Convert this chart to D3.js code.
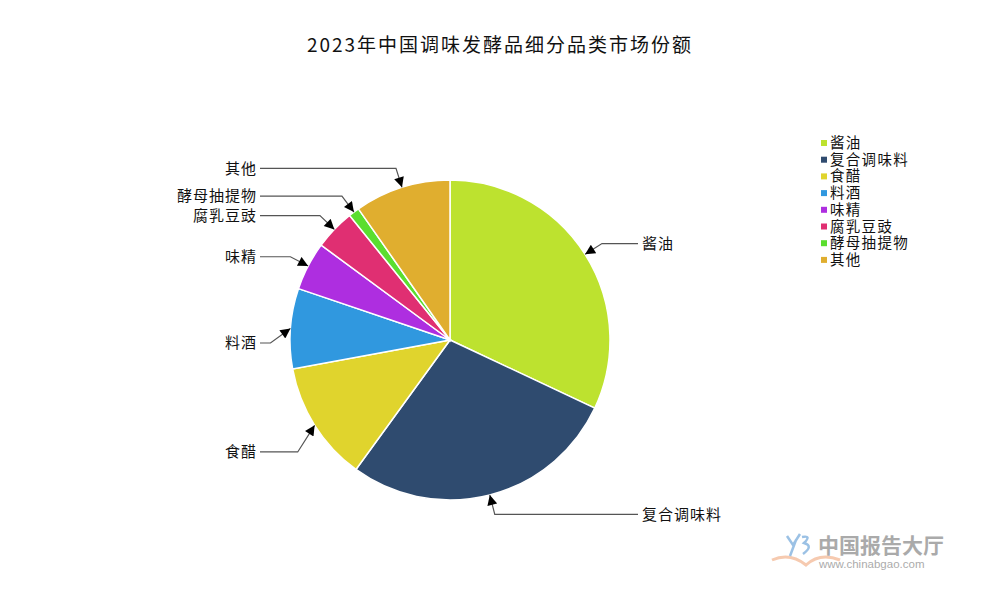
<!DOCTYPE html>
<html>
<head>
    <meta http-equiv="content-type" content="text/html; charset=utf-8" />
    <style>
        html, body { margin: 0; padding: 0; background: #fff; }
        svg text { font-family: "Noto Sans CJK SC", "Noto Sans", sans-serif; }
        svg text.tight { font-family: "Liberation Sans", "Noto Sans CJK SC", sans-serif; }
    </style>
</head>
<body>
<svg id="chart" width="1000" height="600"></svg>

<script src="https://d3js.org/d3.v7.min.js"></script>
<script>
    // 数据
    const categories = ['酱油', '复合调味料', '食醋', '料酒', '味精', '腐乳豆豉', '酵母抽提物', '其他']
    const shares = [32.0, 28.0, 12.1, 8.1, 4.9, 4.1, 1.1, 9.7]
    const colors = ['#bde22f', '#2f4b6f', '#e0d42d', '#3098df', '#ae2ee0', '#e02f72', '#5bde2f', '#e0ae2f']
    const title = '2023年中国调味发酵品细分品类市场份额'

    const svg = d3.select('#chart')
    const cx = 450, cy = 340, r = 160

    // 标题
    svg.append('text')
        .attr('x', 500)
        .attr('y', 52)
        .attr('text-anchor', 'middle')
        .attr('font-size', 19)
        .attr('letter-spacing', 2)
        .attr('fill', '#111')
        .text(title)

    const data = categories.map((name, i) => ({ name, value: shares[i], color: colors[i] }))

    const pie = d3.pie().value(d => d.value).sort(null)
    const arcs = pie(data)
    const arc = d3.arc().innerRadius(0).outerRadius(r)

    svg.append('defs').append('marker')
        .attr('id', 'arrow')
        .attr('viewBox', '0 0 10 10')
        .attr('refX', 10)
        .attr('refY', 5)
        .attr('markerUnits', 'userSpaceOnUse')
        .attr('markerWidth', 12)
        .attr('markerHeight', 10)
        .attr('orient', 'auto')
        .append('path')
        .attr('d', 'M0,0 L10,5 L0,10 z')
        .attr('fill', '#000')

    const g = svg.append('g').attr('transform', `translate(${cx},${cy})`)

    g.selectAll('path.slice')
        .data(arcs)
        .enter()
        .append('path')
        .attr('class', 'slice')
        .attr('d', arc)
        .attr('fill', d => d.data.color)
        .attr('stroke', '#fff')
        .attr('stroke-width', 1.5)

    // 标签引线
    const nudge = { '料酒': 16, '食醋': 16 }
    const tipArc = d3.arc().innerRadius(r).outerRadius(r)
    const elbowArc = d3.arc().innerRadius(r + 20).outerRadius(r + 20)

    arcs.forEach(d => {
        const tip = tipArc.centroid(d)
        const elbow = elbowArc.centroid(d)
        elbow[1] += nudge[d.data.name] || 0
        const right = elbow[0] > 0
        const endX = right ? 188 : -190
        g.append('path')
            .attr('d', `M${endX},${elbow[1]} L${elbow[0]},${elbow[1]} L${tip[0]},${tip[1]}`)
            .attr('fill', 'none')
            .attr('stroke', '#555')
            .attr('stroke-width', 1.2)
            .attr('marker-end', 'url(#arrow)')
        g.append('text')
            .attr('x', right ? 192 : -193)
            .attr('y', elbow[1])
            .attr('dy', '0.35em')
            .attr('text-anchor', right ? 'start' : 'end')
            .attr('font-size', 15)
            .attr('letter-spacing', 1)
            .attr('fill', '#111')
            .text(d.data.name)
    })

    // 图例
    const legend = svg.append('g').attr('transform', 'translate(821,143)')
    const rows = legend.selectAll('g')
        .data(data)
        .enter()
        .append('g')
        .attr('transform', (d, i) => `translate(0,${i * 16.7})`)
    rows.append('rect')
        .attr('x', 0).attr('y', -3)
        .attr('width', 6).attr('height', 6)
        .attr('fill', d => d.color)
    rows.append('text')
        .attr('class', 'tight')
        .attr('x', 9)
        .attr('dy', '0.35em')
        .attr('font-size', 14.5)
        .attr('letter-spacing', 1.3)
        .attr('fill', '#111')
        .text(d => d.name)

    // 水印
    const wm = svg.append('g').attr('opacity', 0.55)
    wm.append('path')
        .attr('d', 'M772,560 Q790,552 806,565 Q820,552 840,560')
        .attr('fill', 'none')
        .attr('stroke', '#f0a070')
        .attr('stroke-width', 3)
    wm.append('path')
        .attr('d', 'M787,536 L793,545 L800,534 M796,540 L790,556 M802,537 Q812,535 804,543 Q814,546 803,554')
        .attr('fill', 'none')
        .attr('stroke', '#4a90d0')
        .attr('stroke-width', 2.5)
    wm.append('text')
        .attr('class', 'tight')
        .attr('x', 818).attr('y', 553)
        .attr('font-size', 21)
        .attr('font-weight', 'bold')
        .attr('fill', '#666')
        .text('中国报告大厅')
    wm.append('text')
        .attr('class', 'tight')
        .attr('x', 819).attr('y', 568)
        .attr('font-size', 11.5)
        .attr('fill', '#666')
        .text('www.chinabgao.com')
</script>
</body>
</html>
